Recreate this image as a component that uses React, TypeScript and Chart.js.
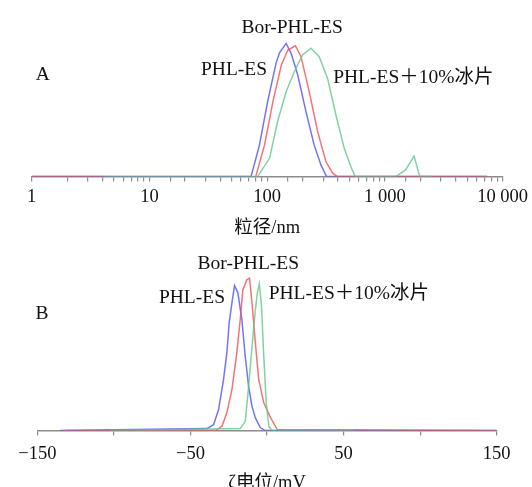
import React, { useEffect, useRef } from 'react';
import { Chart, registerables } from 'chart.js';

Chart.register(...registerables);

// ---------- Panel A: particle size (nm), log axis ----------
const sizeTicks = [1, 10, 100, 1000, 10000];

const sizePhlX = [1, 73, 86, 101, 119, 127, 145, 160, 182, 214, 251, 287, 320, 7400];
const sizePhlY = [0, 0, 23.6, 56.3, 85.0, 92.7, 100, 92.5, 76.2, 48.6, 23.6, 8.6, 0, 0];

const sizeBorX = [1, 4.2, 5, 80, 95, 112, 132, 150, 174, 194, 228, 269, 316, 360, 396, 7400];
const sizeBorY = [0, 0, null, 0, 23.6, 56.3, 83.7, 95.0, 98.2, 90.0, 63.6, 33.6, 11.1, 2.6, 0, 0];

const sizeBingX = [4.2, 83, 105, 123, 145, 170, 200, 236, 277, 326, 384, 452, 515, 560, 1240, 1500, 1770, 1980, 2500];
const sizeBingY = [0, 0, 13.9, 41.7, 63.7, 78.7, 91.3, 96.3, 90.0, 73.7, 46.2, 21.2, 7.4, 0, 0, 5, 15.4, 0, 0];

// ---------- Panel B: zeta potential (mV) ----------
const zetaPhlX = [-135, -39.2, -34.9, -31.6, -28.4, -26.2, -24.7, -22.9, -21.2, -19.0, -16.4, -14.2, -12.0, -9.8, -7.6, -4.4, -1.1, 150];
const zetaPhlY = [0, 1.3, 3.9, 13.8, 33.4, 51.1, 70.7, 83.8, 95.2, 90.4, 72.7, 48.6, 29.0, 15.9, 8.3, 2.0, 0, 0];

const zetaBorX = [-132, -33.8, -29.4, -26.2, -22.9, -19.7, -17.5, -15.8, -13.2, -11.4, -9.8, -7.6, -5.4, -2.1, 2.3, 6.7, 150];
const zetaBorY = [0, 0, 2.8, 11.8, 26.9, 51.1, 72.7, 92.3, 98.9, 100, 83.8, 57.6, 33.4, 18.3, 8.5, 0.7, 0];

const zetaBingX = [-103, -17.5, -14.2, -12.0, -9.8, -7.6, -6.3, -5.0, -3.6, -2.1, -0.5, 1.2, 3.4, 57];
const zetaBingY = [0, 1.3, 6.1, 29.0, 55.0, 79.3, 90.4, 96.3, 81.7, 48.6, 18.1, 2.8, 0, 0];

const seriesNames = ['PHL-ES', 'Bor-PHL-ES', 'PHL-ES＋10%冰片'];

// annotation labels, in data units of each panel
const labelsA = [
  { text: 'A', x: 1.08, y: 72.7, align: 'left' },
  { text: seriesNames[1], x: 163, y: 107.7, align: 'center' },
  { text: seriesNames[0], x: 52.3, y: 76, align: 'center' },
  { text: seriesNames[2], x: 364, y: 70.1, align: 'left' },
];
const labelsB = [
  { text: 'B', x: -151.1, y: 73.4, align: 'left' },
  { text: seriesNames[1], x: -12.2, y: 106.2, align: 'center' },
  { text: seriesNames[0], x: -49, y: 83.9, align: 'center' },
  { text: seriesNames[2], x: 1.1, y: 86.1, align: 'left' },
];

const FONT = '"Liberation Serif", "Noto Sans CJK SC", serif';
const BLUE = 'rgba(80, 80, 245, 0.8)';
const RED = 'rgba(245, 80, 80, 0.8)';
const GREEN = 'rgba(95, 200, 140, 0.8)';
const AXIS = '#8c8c8c';

const pts = (xs: number[], ys: (number | null)[]) => xs.map((x, i) => ({ x, y: ys[i] }));

const makeLabelPlugin = (items: any[]) => ({
  id: 'textLabels',
  afterDatasetsDraw(chart: any) {
    const { ctx, scales } = chart;
    ctx.save();
    ctx.fillStyle = '#111';
    ctx.font = `19.5px ${FONT}`;
    ctx.textBaseline = 'alphabetic';
    for (const l of items) {
      ctx.textAlign = l.align;
      ctx.fillText(l.text, scales.x.getPixelForValue(l.x), scales.y.getPixelForValue(l.y));
    }
    ctx.restore();
  },
});

const ds = (label: string, data: any[], color: string) => ({
  label,
  data,
  borderColor: color,
  backgroundColor: color,
  borderWidth: 1.5,
  pointRadius: 0,
  tension: 0,
  fill: false,
  spanGaps: false,
});

const fmtThousands = (v: number) => String(v).replace(/\B(?=(\d{3})+(?!\d))/g, ' ');

function ChartCanvas({ top, height, build }: { top: number; height: number; build: (c: HTMLCanvasElement) => Chart }) {
  const ref = useRef<HTMLCanvasElement | null>(null);
  useEffect(() => {
    if (!ref.current) return;
    const chart = build(ref.current);
    return () => chart.destroy();
  }, []);
  return (
    <canvas
      ref={ref}
      width={532}
      height={height}
      style={{ position: 'absolute', left: 0, top, width: 532, height }}
    />
  );
}

const commonX = (title: string, titlePad: number) => ({
  border: { display: true, color: AXIS, width: 1.5 },
  grid: { drawOnChartArea: false, drawTicks: true, tickLength: 5, color: AXIS, lineWidth: 1.2 },
  title: { display: true, text: title, color: '#111', font: { family: FONT, size: 18.5 }, padding: { top: titlePad, bottom: 0 } },
});

function buildA(canvas: HTMLCanvasElement) {
  return new Chart(canvas, {
    type: 'line',
    data: {
      datasets: [
        ds(seriesNames[2], pts(sizeBingX, sizeBingY), GREEN),
        ds(seriesNames[1], pts(sizeBorX, sizeBorY), RED),
        ds(seriesNames[0], pts(sizePhlX, sizePhlY), BLUE),
      ],
    },
    options: {
      responsive: false,
      animation: false,
      devicePixelRatio: 1,
      layout: { padding: { left: 31.7, right: 28, top: 16.7, bottom: 0 } },
      plugins: { legend: { display: false }, tooltip: { enabled: false } },
      scales: {
        x: {
          type: 'logarithmic',
          min: sizeTicks[0],
          max: sizeTicks[sizeTicks.length - 1],
          ...commonX('粒径/nm', 5),
          ticks: {
            autoSkip: false,
            maxRotation: 0,
            padding: 4,
            color: '#111',
            font: { family: FONT, size: 18.5 },
            callback: (v: any) => (sizeTicks.includes(Number(v)) ? fmtThousands(Number(v)) : ''),
          },
        },
        y: { display: false, min: 0, max: 120 },
      },
    },
    plugins: [makeLabelPlugin(labelsA)],
  } as any);
}

function buildB(canvas: HTMLCanvasElement) {
  return new Chart(canvas, {
    type: 'line',
    data: {
      datasets: [
        ds(seriesNames[2], pts(zetaBingX, zetaBingY), GREEN),
        ds(seriesNames[1], pts(zetaBorX, zetaBorY), RED),
        ds(seriesNames[0], pts(zetaPhlX, zetaPhlY), BLUE),
      ],
    },
    options: {
      responsive: false,
      animation: false,
      devicePixelRatio: 1,
      layout: { padding: { left: 37.3, right: 35.3, top: 7.7, bottom: 0 } },
      plugins: { legend: { display: false }, tooltip: { enabled: false } },
      scales: {
        x: {
          type: 'linear',
          min: -150,
          max: 150,
          ...commonX('ζ电位/mV', 0),
          ticks: {
            stepSize: 50,
            autoSkip: false,
            maxRotation: 0,
            padding: 7,
            color: '#111',
            font: { family: FONT, size: 18.5 },
            callback: (v: any) => (Number(v) % 100 !== 0 ? String(v).replace('-', '−') : ''),
          },
        },
        y: { display: false, min: 0, max: 120 },
      },
    },
    plugins: [makeLabelPlugin(labelsB)],
  } as any);
}

export default function App() {
  return (
    <div style={{ position: 'fixed', left: 0, top: 0, width: 532, height: 487, overflow: 'hidden', background: '#fff' }}>
      <ChartCanvas top={0} height={239} build={buildA} />
      <ChartCanvas top={240} height={254} build={buildB} />
    </div>
  );
}
